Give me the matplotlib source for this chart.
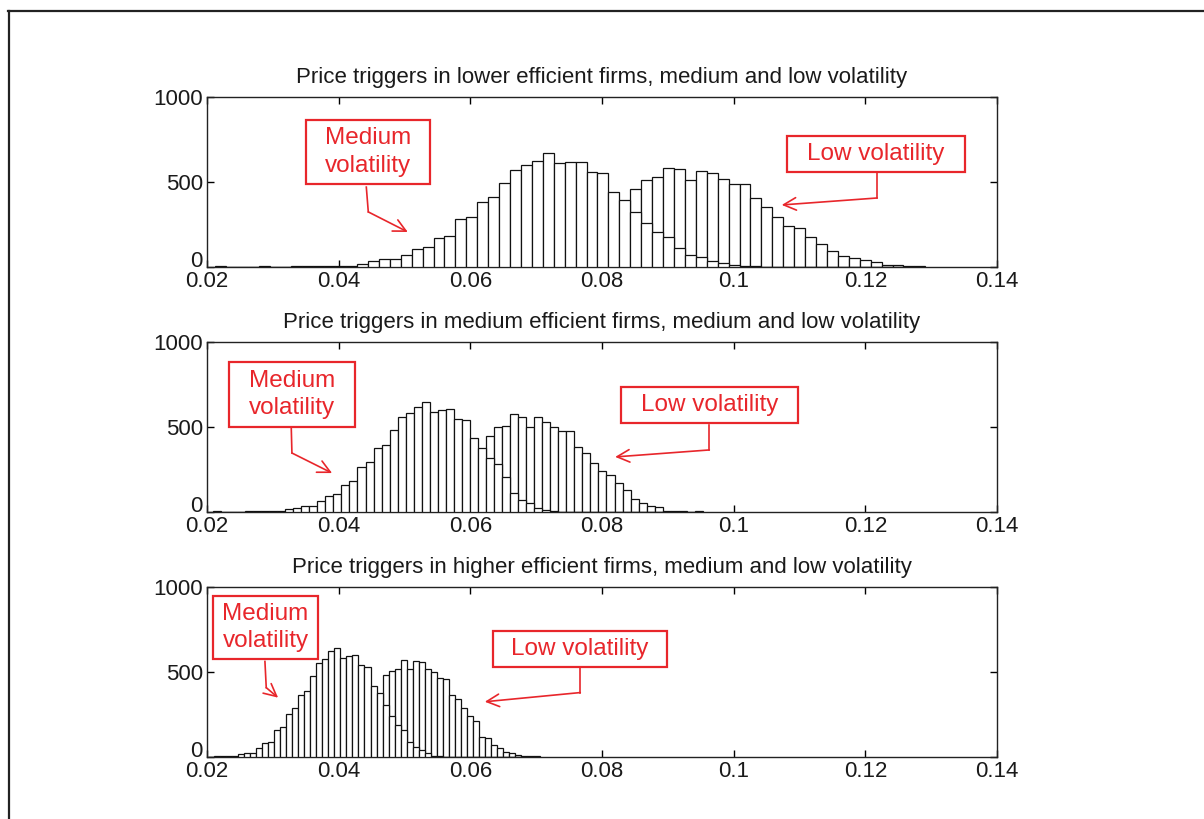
import numpy as np
import matplotlib
matplotlib.use("Agg")
import matplotlib.pyplot as plt
from matplotlib.patches import Rectangle
from matplotlib.lines import Line2D

plt.rcParams['font.family'] = ['Liberation Sans', 'DejaVu Sans']

RED = '#e8262b'
TXT = '#1a1a1a'

# --- Data: histogram counts ---
titles = [
    "Price triggers in lower efficient firms, medium and low volatility",
    "Price triggers in medium efficient firms, medium and low volatility",
    "Price triggers in higher efficient firms, medium and low volatility",
]

# bin layout per panel (first edge, bin width)
bin_start = [0.02121, 0.0209, 0.02008]
bin_width = [0.00166, 0.00122, 0.000917]

top_medium = [3, 2, 0, 0, 3, 0, 2, 3, 3, 4, 3, 4, 8, 20, 35, 45, 45, 70, 104, 115,
              172, 184, 280, 296, 384, 410, 492, 570, 600, 625, 668, 610, 620, 620, 560,
              550, 443, 394, 325, 261, 208, 178, 110, 70, 61, 37, 22, 12, 5, 3,
              0, 0, 0, 0, 0, 0, 0, 0, 0, 0, 0, 0, 0, 0, 0]
top_low = [0, 0, 0, 0, 0, 0, 0, 0, 0, 0, 0, 0, 0, 0, 0, 0, 0, 0, 0, 0,
           0, 0, 0, 0, 0, 0, 0, 4, 8, 15, 28, 45, 70, 110, 160,
           220, 300, 380, 459, 512, 527, 584, 576, 512, 567, 550, 518, 488, 488, 404,
           355, 296, 241, 227, 178, 135, 94, 67, 51, 41, 31, 12, 12, 3, 8]

mid_medium = [3, 0, 2, 2, 3, 3, 3, 4, 5, 16, 25, 37, 37, 67, 96, 106, 159, 184, 267, 292,
              375, 394, 482, 557, 584, 616, 649, 590, 600, 606, 547, 541, 433, 375, 316,
              280, 208, 114, 71, 51, 22, 12, 5, 2, 0, 0, 0, 0, 0, 0,
              0, 0, 0, 0, 0, 0, 0, 0, 0, 0, 0]
mid_low = [0, 0, 0, 0, 0, 0, 0, 0, 0, 0, 0, 0, 0, 0, 0, 0, 0, 0, 0, 0,
           0, 0, 0, 2, 6, 12, 25, 45, 70, 110, 160, 220, 290, 360, 449,
           498, 506, 576, 557, 498, 557, 531, 498, 478, 478, 380, 345, 290, 243, 218,
           169, 129, 75, 55, 35, 27, 8, 3, 3, 0, 4]

bot_medium = [2, 3, 3, 4, 8, 18, 22, 22, 55, 81, 91, 156, 174, 254, 288, 367, 387, 475, 554, 574,
              623, 639, 584, 594, 598, 544, 531, 420, 377, 308, 243, 189, 160, 91, 61,
              41, 22, 8, 3, 0, 0, 0, 0, 0, 0, 0, 0, 0, 0, 0,
              0, 0, 0, 0, 0]
bot_low = [0, 0, 0, 0, 0, 0, 0, 0, 0, 0, 0, 0, 0, 0, 0, 0, 0, 0, 3, 8,
           15, 28, 48, 75, 110, 160, 220, 290, 360, 485, 505, 515, 570, 515, 564,
           558, 519, 499, 465, 460, 367, 341, 288, 239, 209, 120, 110, 71, 51, 32,
           26, 12, 6, 3, 3]

medium_series = [top_medium, mid_medium, bot_medium]
low_series = [top_low, mid_low, bot_low]

x_ticks = [0.02, 0.04, 0.06, 0.08, 0.1, 0.12, 0.14]
x_tick_labels = ['0.02', '0.04', '0.06', '0.08', '0.1', '0.12', '0.14']
y_ticks = [0, 500, 1000]

# annotation boxes (x0, x1, y0, y1) and arrow paths (start, corner, tip), in data units
med_boxes = [(0.0350, 0.0539, 488, 865), (0.0233, 0.0425, 500, 882), (0.0209, 0.0369, 574, 947)]
med_arrows = [((0.0442, 470), (0.0445, 324), (0.0505, 206)),
              ((0.0328, 494), (0.0329, 347), (0.0390, 229)),
              ((0.0288, 562), (0.0290, 408), (0.0308, 349))]
low_boxes = [(0.1081, 0.1351, 559, 770), (0.0829, 0.1098, 524, 735), (0.0634, 0.0899, 527, 740)]
low_arrows = [((0.1218, 553), (0.1218, 406), (0.1073, 365)),
              ((0.0963, 512), (0.0963, 365), (0.0820, 324)),
              ((0.0767, 527), (0.0767, 379), (0.0622, 325))]

# --- Figure ---
fig = plt.figure(figsize=(12.04, 8.19), dpi=100)
fig.patch.set_facecolor('white')

# outer frame (top and left edges only visible)
fig.add_artist(Line2D([8 / 1204, 1.0], [1 - 11 / 819, 1 - 11 / 819], color='#222222', lw=1.6))
fig.add_artist(Line2D([9 / 1204, 9 / 1204], [0.0, 1 - 11 / 819], color='#222222', lw=1.6))

left, width = 207 / 1204, 790 / 1204
bottoms = [1 - 267 / 819, 1 - 512 / 819, 1 - 757 / 819]
height = 170 / 819


def add_box(ax, box, text):
    x0, x1, y0, y1 = box
    ax.add_patch(Rectangle((x0, y0), x1 - x0, y1 - y0, facecolor='white',
                           edgecolor=RED, lw=1.6, zorder=5))
    ax.text((x0 + x1) / 2, (y0 + y1) / 2, text, color=RED, fontsize=17.5,
            ha='center', va='center', multialignment='left', linespacing=1.3, zorder=6)


def add_arrow(ax, path):
    start, corner, tip = path
    ax.plot([start[0], corner[0]], [start[1], corner[1]], color=RED, lw=1.2, zorder=5)
    ax.annotate('', xy=tip, xytext=corner,
                arrowprops=dict(arrowstyle='->,head_length=0.9,head_width=0.45',
                                color=RED, lw=1.2, shrinkA=0, shrinkB=0), zorder=5)


for i in range(3):
    ax = fig.add_axes([left, bottoms[i], width, height])
    n = len(medium_series[i])
    edges = bin_start[i] + bin_width[i] * np.arange(n + 1)
    # low volatility drawn first, medium volatility on top (white faces)
    ax.bar(edges[:-1], low_series[i], width=bin_width[i], align='edge',
           facecolor='white', edgecolor='#111111', linewidth=0.9, zorder=2)
    ax.bar(edges[:-1], medium_series[i], width=bin_width[i], align='edge',
           facecolor='white', edgecolor='#111111', linewidth=0.9, zorder=3)

    ax.set_xlim(0.02, 0.14)
    ax.set_ylim(0, 1000)
    ax.set_xticks(x_ticks)
    ax.set_xticklabels(x_tick_labels)
    ax.set_yticks(y_ticks)
    ax.tick_params(direction='in', length=5, width=1.0, top=True, right=True,
                   labelsize=16, labelcolor=TXT, pad=3)
    ax.tick_params(axis='x', pad=3)
    # MATLAB lifts the "0" label so it sits above the first x label
    ax.get_yticklabels()[0].set_va('baseline')
    for s in ax.spines.values():
        s.set_linewidth(1.0)
        s.set_color('#222222')
    ax.set_title(titles[i], fontsize=16, color=TXT, pad=10)

    add_box(ax, med_boxes[i], 'Medium\nvolatility')
    add_box(ax, low_boxes[i], 'Low volatility')
    add_arrow(ax, med_arrows[i])
    add_arrow(ax, low_arrows[i])

fig.savefig('out.png', dpi=100, facecolor='white')
